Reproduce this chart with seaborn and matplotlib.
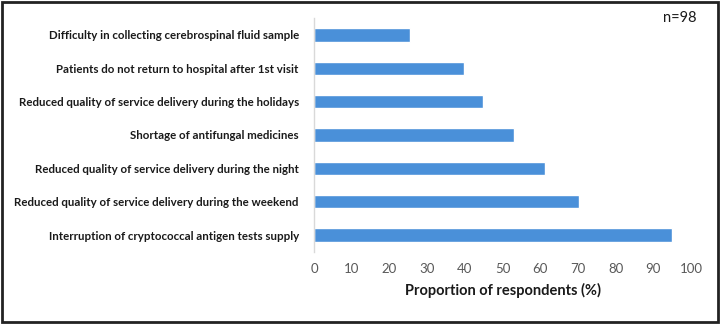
import seaborn as sns
import matplotlib.pyplot as plt
import pandas as pd
from matplotlib.patches import Rectangle

# data (n=98)
barriers = [
    "Difficulty in collecting cerebrospinal fluid sample",
    "Patients do not return to hospital after 1st visit",
    "Reduced quality of service delivery during the holidays",
    "Shortage of antifungal medicines",
    "Reduced quality of service delivery during the night",
    "Reduced quality of service delivery during the weekend",
    "Interruption of cryptococcal antigen tests supply",
]
proportion = [25.5, 39.8, 44.9, 53.1, 61.2, 70.4, 94.9]
x_ticks = [0, 10, 20, 30, 40, 50, 60, 70, 80, 90, 100]

df = pd.DataFrame({"barrier": barriers, "proportion": proportion})

sns.set_style("white")
plt.rcParams['font.family'] = ['Lato', 'DejaVu Sans']

fig = plt.figure(figsize=(7.22, 3.24), dpi=100)
ax = fig.add_axes([0.435, 0.223, 0.522, 0.721])

sns.barplot(data=df, x="proportion", y="barrier", color="#4a90d9",
            width=0.4, saturation=1, ax=ax)

ax.set_xlim(0, 100)
ax.set_xticks(x_ticks)
ax.tick_params(axis='x', colors='#595959', labelsize=9.5, length=0, pad=8)
ax.tick_params(axis='y', length=0, pad=11)
for lab in ax.get_yticklabels():
    lab.set_fontweight('bold')
    lab.set_fontsize(8.3)
    lab.set_color('#1a1a1a')
ax.set_ylabel("")
ax.set_xlabel("Proportion of respondents (%)", fontsize=10.5,
              fontweight='bold', color='#1a1a1a', labelpad=6)

for s in ['top', 'right', 'bottom']:
    ax.spines[s].set_visible(False)
ax.spines['left'].set_color('#d9d9d9')
ax.spines['left'].set_linewidth(1)

fig.text(0.965, 0.945, "n=98", ha='right', va='center', fontsize=10.5,
         color='#1a1a1a')

# outer frame
fig.patches.append(Rectangle((0.003, 0.005), 0.992, 0.99, transform=fig.transFigure,
                             fill=False, edgecolor='#222222', linewidth=2))

fig.savefig("out.png", dpi=100)
